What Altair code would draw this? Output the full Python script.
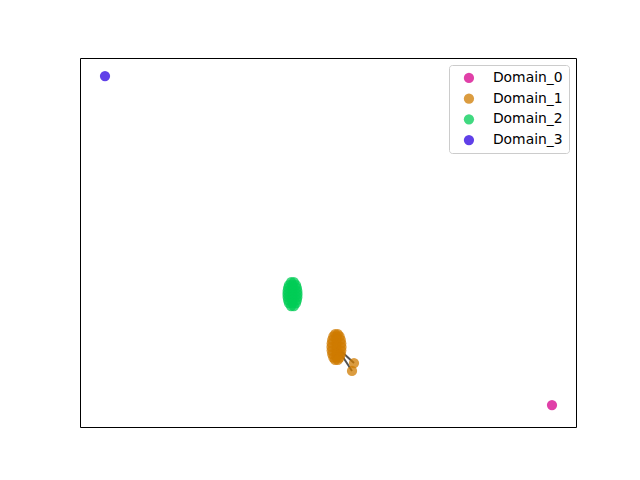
import altair as alt
import pandas as pd

# Embedded coordinates per domain
domain_0_x = [95.16]
domain_0_y = [5.96]

domain_1_x = [51.44, 51.98,
              51.08, 51.71, 52.34,
              50.85, 51.71, 52.57,
              50.74, 51.71, 52.68,
              50.70, 51.71, 52.72,
              50.74, 51.71, 52.68,
              50.85, 51.71, 52.57,
              51.08, 51.71, 52.34,
              51.44, 51.98,
              55.24, 54.84]
domain_1_y = [25.20, 25.20,
              24.53, 24.53, 24.53,
              23.58, 23.58, 23.58,
              22.63, 22.63, 22.63,
              21.68, 21.68, 21.68,
              20.73, 20.73, 20.73,
              19.78, 19.78, 19.78,
              18.83, 18.83, 18.83,
              18.16, 18.16,
              17.34, 15.18]

domain_2_x = [42.56, 43.12,
              42.13, 42.84, 43.55,
              41.95, 42.84, 43.73,
              41.86, 42.84, 43.82,
              41.83, 42.84, 43.85,
              41.86, 42.84, 43.82,
              41.95, 42.84, 43.73,
              42.13, 42.84, 43.55,
              42.56, 43.12]
domain_2_y = [39.29, 39.29,
              38.48, 38.48, 38.48,
              37.67, 37.67, 37.67,
              36.85, 36.85, 36.85,
              36.04, 36.04, 36.04,
              35.23, 35.23, 35.23,
              34.41, 34.41, 34.41,
              33.60, 33.60, 33.60,
              32.79, 32.79]

domain_3_x = [5.04]
domain_3_y = [95.12]

# Links from the Domain_1 centre to its two stray points
link_x = [51.71, 51.71]
link_y = [21.68, 21.68]
link_x2 = [55.24, 54.84]
link_y2 = [17.34, 15.18]

domains = ["Domain_0", "Domain_1", "Domain_2", "Domain_3"]
colors = ["#d6008b", "#cf7b00", "#00cc55", "#2b00e0"]

frames = []
for name, xs, ys in [
    ("Domain_0", domain_0_x, domain_0_y),
    ("Domain_1", domain_1_x, domain_1_y),
    ("Domain_2", domain_2_x, domain_2_y),
    ("Domain_3", domain_3_x, domain_3_y),
]:
    frames.append(pd.DataFrame({"x": xs, "y": ys, "domain": name}))
points = pd.concat(frames, ignore_index=True)

links = pd.DataFrame({"x": link_x, "y": link_y, "x2": link_x2, "y2": link_y2})

xs = alt.Scale(domain=[0, 100], nice=False, zero=False)
ys = alt.Scale(domain=[0, 100], nice=False, zero=False)

rules = alt.Chart(links).mark_rule(color="#333333", strokeWidth=2, opacity=0.85).encode(
    x=alt.X("x:Q", scale=xs, axis=None),
    y=alt.Y("y:Q", scale=ys, axis=None),
    x2="x2:Q",
    y2="y2:Q",
)

dots = alt.Chart(points).mark_circle(size=105, opacity=0.75).encode(
    x=alt.X("x:Q", scale=xs, axis=None),
    y=alt.Y("y:Q", scale=ys, axis=None),
    color=alt.Color(
        "domain:N",
        scale=alt.Scale(domain=domains, range=colors),
        legend=alt.Legend(
            title=None,
            orient="none",
            legendX=369,
            legendY=7,
            padding=6,
            symbolOffset=7,
            labelOffset=17,
            symbolSize=105,
            symbolOpacity=0.75,
            symbolType="circle",
            labelFont="DejaVu Sans",
            labelFontSize=13.9,
            labelColor="black",
            rowPadding=5.7,
            strokeColor="#cccccc",
            cornerRadius=3,
            fillColor="rgba(255,255,255,0.8)",
        ),
    ),
    order=alt.Order("domain:N"),
)

chart = alt.layer(rules, dots).properties(
    width=496,
    height=369,
    autosize="none",
    padding={"left": 80, "top": 58, "right": 64, "bottom": 53},
    background="white",
).configure_view(stroke="black", strokeWidth=1)

chart.save("out.html", embed_options={"renderer": "svg", "actions": False})
